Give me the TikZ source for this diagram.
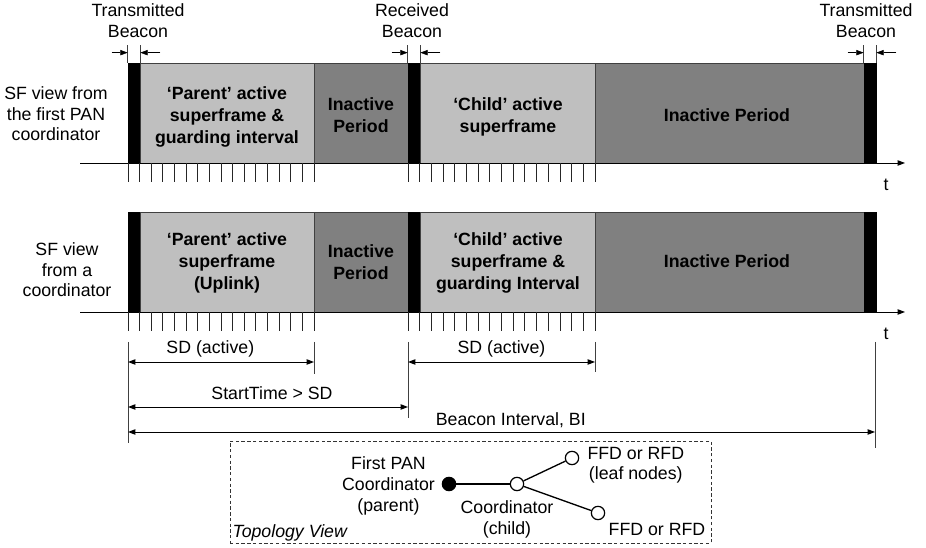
\documentclass[tikz,border=0pt]{standalone}
\usepackage{fontspec}
\setmainfont{Liberation Sans}
\usetikzlibrary{arrows.meta,positioning,fit}

\begin{document}
\begin{tikzpicture}[
  x=0.75pt, y=-0.75pt,
  >={Triangle[length=5.5pt,width=4pt]},
  every node/.style={font=\fontsize{13.3}{15.5}\selectfont, inner sep=0pt, align=center},
  beacon/.style={fill=black, draw=black, line width=0.5pt},
  activeblk/.style={fill=black!25, draw=black!75, line width=0.6pt},
  idleblk/.style={fill=black!50, draw=black!75, line width=0.6pt},
  blktext/.style={font=\fontsize{13.3}{16.5}\selectfont\bfseries},
  timeaxis/.style={->, line width=0.7pt},
  slot/.style={draw=black!85, line width=0.6pt},
  guide/.style={draw=black!75, line width=0.7pt},
  dimline/.style={<->, line width=0.7pt},
  topo/.style={circle, draw, line width=0.9pt, minimum size=10pt},
  link/.style={line width=1pt},
]
\useasboundingbox (0,0) rectangle (926,548);

% First row: SF view from the first PAN coordinator
\node[beacon, fit={(128,63) (140,163)}] (bcnA1) {};
\node[activeblk, fit={(140,63) (314,163)}] (parA) {};
\node[idleblk, fit={(314,63) (408,163)}] (offA1) {};
\node[beacon, fit={(408,63) (420,163)}] (bcnA2) {};
\node[activeblk, fit={(420,63) (595,163)}] (chiA) {};
\node[idleblk, fit={(595,63) (864,163)}] (offA2) {};
\node[beacon, fit={(864,63) (876,163)}] (bcnA3) {};

\node[blktext] (parAtxt) at (227,117) {‘Parent’ active\\superframe \&\\guarding interval};
\node[blktext] (offA1txt) at (361,115) {Inactive\\Period};
\node[blktext] (chiAtxt) at (508,117) {‘Child’ active\\superframe};
\node[blktext] (offA2txt) at (727,115) {Inactive Period};

\node (viewA) at (56,114) {SF view from\\the first PAN\\coordinator};

\coordinate (axA0) at (80,163);
\coordinate (axA1) at (905,163);
\draw[timeaxis] (axA0) -- (axA1);
\node (tA) at (886,185) {t};

% Beacon markers
\draw[guide] (bcnA1.north west) -- ++(0,-18);
\draw[guide] (bcnA1.north east) -- ++(0,-18);
\draw[->] ([xshift=-12pt,yshift=7.5pt]bcnA1.north west) -- ([yshift=7.5pt]bcnA1.north west);
\draw[->] ([xshift=15pt,yshift=7.5pt]bcnA1.north east) -- ([yshift=7.5pt]bcnA1.north east);
\node (txA1) at (138,21) {Transmitted\\Beacon};

\draw[guide] (bcnA2.north west) -- ++(0,-18);
\draw[guide] (bcnA2.north east) -- ++(0,-18);
\draw[->] ([xshift=-12pt,yshift=7.5pt]bcnA2.north west) -- ([yshift=7.5pt]bcnA2.north west);
\draw[->] ([xshift=15pt,yshift=7.5pt]bcnA2.north east) -- ([yshift=7.5pt]bcnA2.north east);
\node (rxA2) at (412,21) {Received\\Beacon};

\draw[guide] (bcnA3.north west) -- ++(0,-18);
\draw[guide] (bcnA3.north east) -- ++(0,-18);
\draw[->] ([xshift=-12pt,yshift=7.5pt]bcnA3.north west) -- ([yshift=7.5pt]bcnA3.north west);
\draw[->] ([xshift=15pt,yshift=7.5pt]bcnA3.north east) -- ([yshift=7.5pt]bcnA3.north east);
\node (txA3) at (866,21) {Transmitted\\Beacon};

% Second row: SF view from a coordinator
\node[beacon, fit={(128,212) (140,312)}] (bcnB1) {};
\node[activeblk, fit={(140,212) (314,312)}] (parB) {};
\node[idleblk, fit={(314,212) (408,312)}] (offB1) {};
\node[beacon, fit={(408,212) (420,312)}] (bcnB2) {};
\node[activeblk, fit={(420,212) (595,312)}] (chiB) {};
\node[idleblk, fit={(595,212) (864,312)}] (offB2) {};
\node[beacon, fit={(864,212) (876,312)}] (bcnB3) {};

\node[blktext] (parBtxt) at (227,263) {‘Parent’ active\\superframe\\(Uplink)};
\node[blktext] (offB1txt) at (361,262) {Inactive\\Period};
\node[blktext] (chiBtxt) at (508,263) {‘Child’ active\\superframe \&\\guarding Interval};
\node[blktext] (offB2txt) at (727,261) {Inactive Period};

\node (viewB) at (67,270) {SF view\\from a\\coordinator};

\coordinate (axB0) at (80,312);
\coordinate (axB1) at (905,312);
\draw[timeaxis] (axB0) -- (axB1);
\node (tB) at (886,334) {t};

% Slots
\foreach \k in {0,...,16} {
  \draw[slot] ({128+11.625*\k},163) -- ++(0,19);
  \draw[slot] ({408+11.6875*\k},163) -- ++(0,19);
  \draw[slot] ({128+11.625*\k},312) -- ++(0,19);
  \draw[slot] ({408+11.6875*\k},312) -- ++(0,19);
}

% Durations
\foreach \x/\ya/\yb in {128/342/443, 314/342/374, 408/342/418, 595/342/372, 875/342/448}
  \draw[guide] (\x,\ya) -- (\x,\yb);

\coordinate (sdAl) at (128,362);
\coordinate (sdAr) at (314,362);
\coordinate (sdBl) at (408,362);
\coordinate (sdBr) at (595,362);
\coordinate (stl) at (128,407);
\coordinate (str) at (408,407);
\coordinate (bil) at (128,432);
\coordinate (bir) at (875,432);

\draw[dimline] (sdAl) -- node[above=3pt, xshift=-8pt] (sdAlbl) {SD (active)} (sdAr);
\draw[dimline] (sdBl) -- node[above=3pt] (sdBlbl) {SD (active)} (sdBr);
\draw[dimline] (stl) -- node[above=5pt, xshift=3pt] (stlbl) {StartTime > SD} (str);
\draw[dimline] (bil) -- node[above=2.5pt, xshift=7pt] (bilbl) {Beacon Interval, BI} (bir);

% Topology view
\node[draw=black!80, dash pattern=on 2.5pt off 1.8pt, line width=0.6pt,
  fit={(230,441) (711,543)}] (topobox) {};
\node[anchor=south west, font=\fontsize{13.3}{15.5}\selectfont\itshape] (topolbl)
  at ([xshift=2pt,yshift=1.5pt]topobox.south west) {Topology View};

\node[topo, fill=black] (pan) at (449,484) {};
\node[topo] (crd) at (517,484) {};
\node[topo] (lfA) at (572,458) {};
\node[topo] (lfB) at (598,513) {};
\draw[link] (pan) -- (crd);
\draw[link] (crd) -- (lfA);
\draw[link] (crd) -- (lfB);

\node[left=5pt of pan, yshift=-1.5pt] (panlbl) {First PAN\\Coordinator\\(parent)};
\node[below=7pt of crd, xshift=-7.5pt] (crdlbl) {Coordinator\\(child)};
\node[right=6pt of lfA, yshift=-5.5pt] (lfAlbl) {FFD or RFD\\(leaf nodes)};
\node[below right=3.5pt and 4pt of lfB] (lfBlbl) {FFD or RFD};
\end{tikzpicture}
\end{document}
